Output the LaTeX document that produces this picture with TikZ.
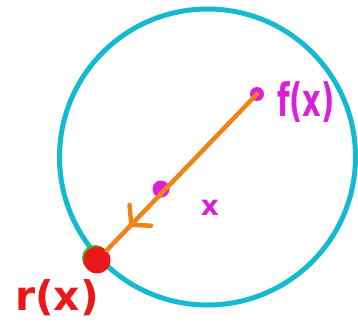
\documentclass[tikz,border=0pt]{standalone}
\usepackage{fontspec}
\setsansfont{DejaVu Sans}
\usetikzlibrary{arrows.meta, decorations.markings}
\definecolor{ballcyan}{RGB}{22,186,208}
\definecolor{dotmag}{RGB}{218,30,218}
\definecolor{rayorange}{RGB}{240,130,22}
\definecolor{projred}{RGB}{234,24,24}
\definecolor{rimgreen}{RGB}{80,175,40}

\begin{document}
\begin{tikzpicture}[
  x=1pt, y=-1pt,
  dot/.style   = {circle, fill=dotmag, inner sep=0pt, minimum size=14pt},
  lbl/.style   = {font=\sffamily\bfseries\fontsize{34}{36}\selectfont, inner sep=0pt},
  ray/.style   = {draw=rayorange, line width=4.5pt, line cap=round,
                  postaction={decorate, decoration={markings, mark=at position 0.85 with
                  {\arrow[line width=4.5pt, rayorange]{Straight Barb[length=13pt, width=30pt, line cap=round]}}}}},
]
\useasboundingbox (0,0) rectangle (358,322);

% ── Ball ──────────────────────────────────────────────────────────────────────
\node[circle, draw=ballcyan, line width=5pt, minimum size=296pt, inner sep=0pt] (ball) at (207.5,157) {};

% ── Points ────────────────────────────────────────────────────────────────────
\node[dot] (fx) at (257,94) {};
\node[dot, minimum width=12pt, minimum height=17pt] (mid) at (161,189) {};
\node[circle, fill=rimgreen, inner sep=0pt, minimum size=26pt] (rim) at (95,258) {};
\node[circle, fill=projred, inner sep=0pt, minimum size=27pt] (rx) at (97,260) {};

% ── Ray from f(x) to r(x) ─────────────────────────────────────────────────────
\draw[ray] (fx.center) -- (rx.north east);

% ── Labels ────────────────────────────────────────────────────────────────────
\node[lbl, text=dotmag, xscale=0.85, yscale=1.35] (flbl) at (306,102) {f(x)};
\node[lbl, text=dotmag, font=\sffamily\bfseries\fontsize{28}{30}\selectfont] (xlbl) at (210,208) {x};
\node[lbl, text=projred, xscale=1.2, yscale=1.2] (rlbl) at (57,298) {r(x)};

\end{tikzpicture}
\end{document}
